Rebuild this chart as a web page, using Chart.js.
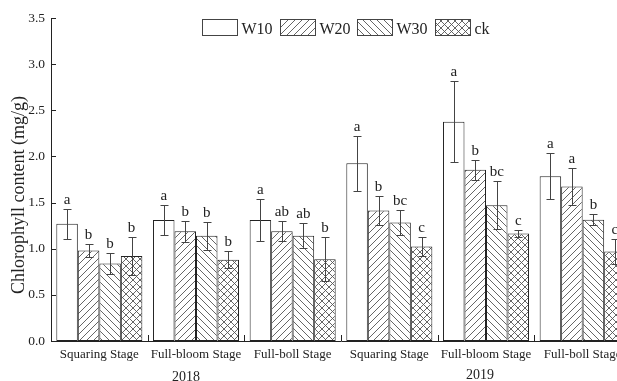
<!DOCTYPE html>
<html>
<head>
<meta charset="utf-8">
<script src="https://cdn.jsdelivr.net/npm/chart.js@4/dist/chart.umd.min.js"></script>
<style>
  html, body { margin: 0; padding: 0; background: #fff; overflow: hidden; }
  canvas { display: block; }
</style>
</head>
<body>
<canvas id="chart" width="640" height="381"></canvas>
<script>
// Growth stages for the two seasons
const categories = ['Squaring Stage', 'Full-bloom Stage', 'Full-boll Stage',
                    'Squaring Stage', 'Full-bloom Stage', 'Full-boll Stage'];
const years = ['2018', '2019'];
const seriesNames = ['W10', 'W20', 'W30', 'ck'];

// Chlorophyll content (mg/g), means
const w10 = [1.27, 1.31, 1.31, 1.925, 2.375, 1.785];
const w20 = [0.98, 1.19, 1.19, 1.415, 1.855, 1.675];
const w30 = [0.84, 1.14, 1.14, 1.285, 1.47, 1.315];
const ck  = [0.92, 0.88, 0.885, 1.025, 1.165, 0.97];

// Standard deviations
const w10Err = [0.16, 0.16, 0.23, 0.30, 0.44, 0.25];
const w20Err = [0.07, 0.115, 0.11, 0.16, 0.11, 0.20];
const w30Err = [0.11, 0.15, 0.135, 0.135, 0.26, 0.06];
const ckErr  = [0.21, 0.09, 0.24, 0.105, 0.04, 0.14];

// Significance letters
const w10Sig = ['a', 'a', 'a', 'a', 'a', 'a'];
const w20Sig = ['b', 'b', 'ab', 'b', 'b', 'a'];
const w30Sig = ['b', 'b', 'ab', 'bc', 'bc', 'b'];
const ckSig  = ['b', 'b', 'b', 'c', 'c', 'c'];

// Y axis ticks
const yMin = 0, yMax = 3.5, yStep = 0.5;

const SERIF = '"Liberation Serif", "Times New Roman", serif';
const INK = '#222';

function hatch(kind) {
  const s = 7;
  const c = document.createElement('canvas');
  c.width = s; c.height = s;
  const g = c.getContext('2d');
  g.fillStyle = '#fff';
  g.fillRect(0, 0, s, s);
  g.strokeStyle = '#555';
  g.lineWidth = 0.9;
  g.beginPath();
  if (kind === 'fwd' || kind === 'cross') {
    g.moveTo(-1, s + 1); g.lineTo(s + 1, -1);
    g.moveTo(-1, 1); g.lineTo(1, -1);
    g.moveTo(s - 1, s + 1); g.lineTo(s + 1, s - 1);
  }
  if (kind === 'back' || kind === 'cross') {
    g.moveTo(-1, -1); g.lineTo(s + 1, s + 1);
    g.moveTo(s - 1, -1); g.lineTo(s + 1, 1);
    g.moveTo(-1, s - 1); g.lineTo(1, s + 1);
  }
  g.stroke();
  return g.createPattern(c, 'repeat');
}

const fills = ['#ffffff', hatch('fwd'), hatch('back'), hatch('cross')];
const values = [w10, w20, w30, ck];
const errors = [w10Err, w20Err, w30Err, ckErr];
const letters = [w10Sig, w20Sig, w30Sig, ckSig];

// Error bars, letters, inward tick marks, legend, axis title and year labels
const decorations = {
  id: 'decorations',
  afterDatasetsDraw(chart) {
    const ctx = chart.ctx;
    const ys = chart.scales.y;
    ctx.save();
    chart.data.datasets.forEach((ds, di) => {
      const meta = chart.getDatasetMeta(di);
      meta.data.forEach((bar, i) => {
        const v = ds.data[i];
        const e = errors[di][i];
        const top = Math.round(ys.getPixelForValue(v + e)) + 0.5;
        const bot = Math.round(ys.getPixelForValue(v - e)) + 0.5;
        const x = Math.round(bar.x) + 0.5;
        ctx.strokeStyle = '#444';
        ctx.lineWidth = 1;
        ctx.beginPath();
        ctx.moveTo(x, top); ctx.lineTo(x, bot);
        ctx.moveTo(x - 4, top); ctx.lineTo(x + 4, top);
        ctx.moveTo(x - 4, bot); ctx.lineTo(x + 4, bot);
        ctx.stroke();
        ctx.fillStyle = INK;
        ctx.font = '15px ' + SERIF;
        ctx.textAlign = 'center';
        ctx.textBaseline = 'alphabetic';
        ctx.fillText(letters[di][i], bar.x, top - 6);
      });
    });
    ctx.restore();
  },
  afterDraw(chart) {
    const ctx = chart.ctx;
    const xs = chart.scales.x, ys = chart.scales.y;
    const area = chart.chartArea;
    ctx.save();
    ctx.strokeStyle = INK;
    ctx.lineWidth = 1;
    // y ticks pointing inward
    ctx.beginPath();
    ys.ticks.forEach(t => {
      const y = Math.round(ys.getPixelForValue(t.value)) + 0.5;
      ctx.moveTo(area.left, y); ctx.lineTo(area.left + 5, y);
    });
    // x boundary ticks between categories
    const w = (xs.right - xs.left) / categories.length;
    for (let i = 1; i <= categories.length; i++) {
      const x = Math.round(xs.left + i * w) + 0.5;
      ctx.moveTo(x, area.bottom); ctx.lineTo(x, area.bottom - 6);
    }
    ctx.stroke();

    // legend
    ctx.font = '16px ' + SERIF;
    ctx.textAlign = 'left';
    ctx.textBaseline = 'alphabetic';
    const lx0 = 202, step = 77.7, bw = 35, bh = 16, by = 19.5;
    chart.data.datasets.forEach((ds, di) => {
      const x = Math.round(lx0 + di * step) + 0.5;
      ctx.fillStyle = ds.backgroundColor;
      ctx.fillRect(x, by, bw, bh);
      ctx.strokeStyle = '#444';
      ctx.strokeRect(x, by, bw, bh);
      ctx.fillStyle = INK;
      ctx.fillText(ds.label, x + bw + 4, 34);
    });

    // axis title
    ctx.save();
    ctx.translate(19, 195);
    ctx.rotate(-Math.PI / 2);
    ctx.font = '18px ' + SERIF;
    ctx.textAlign = 'center';
    ctx.textBaseline = 'middle';
    ctx.fillStyle = INK;
    ctx.fillText('Chlorophyll content (mg/g)', 0, 0);
    ctx.restore();

    // season labels
    ctx.font = '14px ' + SERIF;
    ctx.textAlign = 'center';
    ctx.textBaseline = 'middle';
    ctx.fillStyle = INK;
    ctx.fillText(years[0], 186, 377);
    ctx.fillText(years[1], 480, 375);
    ctx.restore();
  }
};

new Chart(document.getElementById('chart'), {
  type: 'bar',
  data: {
    labels: categories,
    datasets: seriesNames.map((name, i) => ({
      label: name,
      data: values[i],
      backgroundColor: fills[i],
      borderColor: INK,
      borderWidth: 1,
      borderSkipped: false,
      categoryPercentage: 0.89,
      barPercentage: 1.0
    }))
  },
  options: {
    responsive: false,
    animation: false,
    events: [],
    layout: { padding: { top: 18, right: 9, left: 0, bottom: 0 } },
    plugins: { legend: { display: false }, tooltip: { enabled: false } },
    scales: {
      x: {
        offset: true,
        grid: { display: false, drawTicks: false },
        border: { display: true, color: INK, width: 1 },
        ticks: {
          font: { family: SERIF, size: 13 },
          color: INK,
          padding: 6,
          maxRotation: 0,
          autoSkip: false
        },
        afterFit(s) { s.height = 40; }
      },
      y: {
        min: yMin,
        max: yMax,
        grid: { display: false, drawTicks: false },
        border: { display: true, color: INK, width: 1 },
        ticks: {
          stepSize: yStep,
          font: { family: SERIF, size: 13.5 },
          color: INK,
          padding: 6,
          callback: v => Number(v).toFixed(1)
        },
        afterFit(s) { s.width = 51; }
      }
    }
  },
  plugins: [decorations]
});
</script>
</body>
</html>
